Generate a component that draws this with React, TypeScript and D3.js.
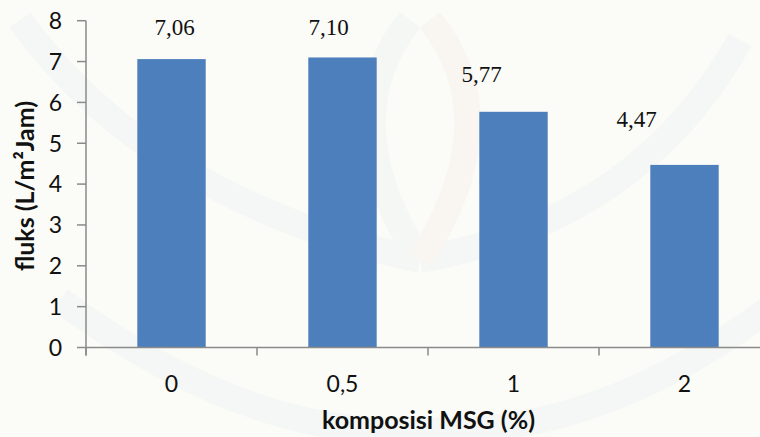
import React from "react";
import * as d3 from "d3";

// Flux measured for each MSG composition
const categories = ["0", "0,5", "1", "2"];
const fluxValues = [7.06, 7.1, 5.77, 4.47];
const valueLabels = ["7,06", "7,10", "5,77", "4,47"];
const yTicks = [0, 1, 2, 3, 4, 5, 6, 7, 8];

// Hand-placed label nudges (dx from bar centre, dy from bar top)
const labelNudges: [number, number][] = [
  [3, -24],
  [-14, -22],
  [-32, -30],
  [-48, -38],
];

const W = 760;
const H = 437;
const margin = { left: 86, right: -10, top: 20.7, bottom: 89.5 };

const BAR = "#4d7fbc";
const AXIS = "#8a8a8a";
const SANS = "Lato, 'Open Sans', sans-serif";
const SERIF = "'Liberation Serif', 'Times New Roman', serif";

export default function App() {
  const x = d3
    .scaleBand<string>()
    .domain(categories)
    .range([margin.left, W - margin.right])
    .paddingInner(0.6)
    .paddingOuter(0.3);

  const y = d3
    .scaleLinear()
    .domain([0, 8])
    .range([H - margin.bottom, margin.top]);

  const y0 = y(0);
  const step = x.step();
  const xEdges = categories.map((_, i) => margin.left + i * step);

  return (
    <svg
      width={W}
      height={H}
      style={{ position: "absolute", left: 0, top: 0 }}
      xmlns="http://www.w3.org/2000/svg"
    >
      <rect width={W} height={H} fill="#fbfcf7" />

      {/* faint background emblem */}
      <g fill="none" strokeWidth={26} opacity={0.22}>
        <path d="M 20 20 Q 150 200 420 260" stroke="#dfe6ef" />
        <path d="M 740 40 Q 640 220 420 260" stroke="#dfe6ef" />
        <path d="M 60 300 Q 250 440 420 430" stroke="#dfe6ef" />
        <path d="M 780 300 Q 600 440 420 430" stroke="#dfe6ef" />
        <path d="M 420 260 Q 330 120 410 20" stroke="#e4e8ef" />
        <path d="M 420 260 Q 510 120 430 20" stroke="#f3e2e2" />
      </g>

      {/* bars */}
      {fluxValues.map((v, i) => (
        <rect
          key={categories[i]}
          x={x(categories[i])}
          y={y(v)}
          width={x.bandwidth()}
          height={y0 - y(v)}
          fill={BAR}
        />
      ))}

      {/* value labels */}
      {fluxValues.map((v, i) => (
        <text
          key={"l" + i}
          x={(x(categories[i]) as number) + x.bandwidth() / 2 + labelNudges[i][0]}
          y={y(v) + labelNudges[i][1]}
          textAnchor="middle"
          fontFamily={SERIF}
          fontSize={23}
          fill="#111"
        >
          {valueLabels[i]}
        </text>
      ))}

      {/* y axis */}
      <line x1={margin.left} x2={margin.left} y1={y(8)} y2={y0 + 8} stroke={AXIS} strokeWidth={1.5} />
      {yTicks.map((t) => (
        <g key={"yt" + t}>
          <line x1={margin.left - 9} x2={margin.left} y1={y(t)} y2={y(t)} stroke={AXIS} strokeWidth={1.5} />
          <text
            x={62}
            y={y(t)}
            dy="0.36em"
            textAnchor="end"
            fontFamily={SANS}
            fontSize={23}
            fill="#111"
          >
            {t}
          </text>
        </g>
      ))}

      {/* x axis */}
      <line x1={margin.left} x2={W} y1={y0} y2={y0} stroke={AXIS} strokeWidth={1.5} />
      {xEdges.map((ex, i) => (
        <line key={"xt" + i} x1={ex} x2={ex} y1={y0} y2={y0 + 8} stroke={AXIS} strokeWidth={1.5} />
      ))}
      {categories.map((c) => (
        <text
          key={"xl" + c}
          x={(x(c) as number) + x.bandwidth() / 2}
          y={392}
          textAnchor="middle"
          fontFamily={SANS}
          fontSize={23}
          fill="#111"
        >
          {c}
        </text>
      ))}

      {/* axis titles */}
      <text
        x={428.5}
        y={429}
        textAnchor="middle"
        fontFamily={SANS}
        fontWeight="bold"
        fontSize={25}
        fill="#111"
      >
        komposisi MSG (%)
      </text>
      <text
        transform={`translate(34, 186) rotate(-90)`}
        textAnchor="middle"
        fontFamily={SANS}
        fontWeight="bold"
        fontSize={25}
        fill="#111"
      >
        fluks (L/m²Jam)
      </text>
    </svg>
  );
}
